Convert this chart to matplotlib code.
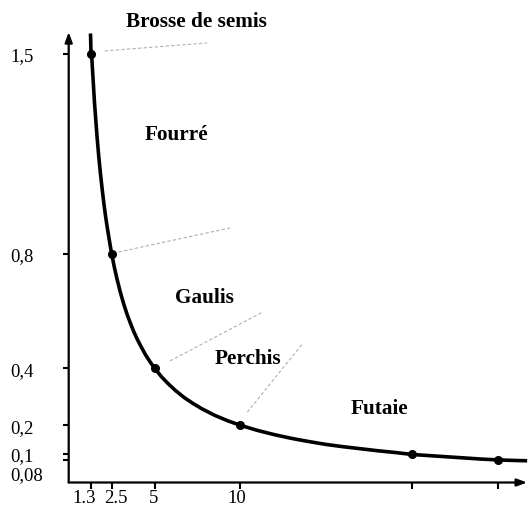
import matplotlib
matplotlib.use("Agg")
import matplotlib.pyplot as plt

# Stand stages: stem density against age (key points)
x_pts = [1.3, 2.5, 5, 10, 20, 25]
y_pts = [1.5, 0.8, 0.4, 0.2, 0.1, 0.08]

# Trace of the curve
curve_x = [1.27, 1.3, 1.35, 1.4, 1.45, 1.5, 1.575, 1.65, 1.75, 1.85, 1.95, 2.05, 2.15, 2.25,
           2.4, 2.5, 2.65, 2.8, 3.0, 3.2, 3.4, 3.6, 3.8, 4.0, 4.25, 4.5, 4.75, 5.0, 5.4, 5.8,
           6.25, 6.75, 7.25, 7.75, 8.5, 9.25, 10, 11, 12, 13, 14, 15, 16, 17, 18, 19, 20,
           21, 22, 23, 24, 25, 26, 26.7]
curve_y = [1.57, 1.5, 1.48, 1.43, 1.38, 1.33, 1.27, 1.21, 1.14, 1.08, 1.025, 0.975, 0.93, 0.89,
           0.835, 0.8, 0.755, 0.715, 0.667, 0.625, 0.588, 0.556, 0.526, 0.5, 0.471, 0.444,
           0.421, 0.4, 0.37, 0.345, 0.32, 0.296, 0.276, 0.258, 0.235, 0.216, 0.2, 0.182,
           0.167, 0.154, 0.143, 0.133, 0.125, 0.118, 0.111, 0.105, 0.098, 0.094, 0.09,
           0.086, 0.082, 0.079, 0.077, 0.076]

y_ticks = [1.5, 0.8, 0.4, 0.2, 0.1, 0.08]
y_labels = ["1,5", "0,8", "0,4", "0,2", "0,1", ""]
x_ticks = [1.3, 2.5, 5, 10, 20, 25]
x_labels = ["1.3", "2.5", "5", "10", "", ""]
x_label_shift = [-7, 4, -1, -4, 0, 0]  # px, keeps close labels apart

stages = ["Brosse de semis", "Fourré", "Gaulis", "Perchis", "Futaie"]
stage_xy = [(7.45, 1.615), (6.3, 1.22), (7.9, 0.65), (10.45, 0.435), (18.1, 0.26)]

# Boundaries between stages (faint dashed guides)
boundaries = [
    ((2.1, 1.509), (8.06, 1.537)),
    ((2.9, 0.806), (9.4, 0.89)),
    ((5.9, 0.425), (11.3, 0.596)),
    ((10.4, 0.246), (13.6, 0.484)),
]

plt.rcParams["font.family"] = ["Liberation Serif", "DejaVu Serif"]

W, H = 532, 506
fig = plt.figure(figsize=(W / 100, H / 100), dpi=100)
x0_px, y0_px = 68.7, 483.5
sx, sy = 17.17, 286.0
xmax, ymax = 27.0, 1.6
ax = fig.add_axes([x0_px / W, (H - y0_px) / H, xmax * sx / W, ymax * sy / H])
ax.set_xlim(0, xmax)
ax.set_ylim(0, ymax)
for s in ax.spines.values():
    s.set_visible(False)

# Axes drawn as arrows
arrow = dict(arrowstyle="-|>,head_length=0.6,head_width=0.22", lw=1.6, color="black",
             shrinkA=0, shrinkB=0)
ax.annotate("", xy=(0, 1.575), xytext=(0, 0), arrowprops=arrow, annotation_clip=False)
ax.annotate("", xy=(26.7, 0), xytext=(0, 0), arrowprops=arrow, annotation_clip=False)

px = 72 / 100  # points per pixel
fs = 13.5

# y axis: ticks outward, labels left-aligned in a column
ax.set_yticks(y_ticks, y_labels)
ax.tick_params(axis="y", direction="out", length=4.5, width=1.5, labelsize=fs,
               pad=(x0_px - 10.5) * px - 4.5)
for lbl in ax.get_yticklabels():
    lbl.set_horizontalalignment("left")
ax.annotate("0,08", xy=(0, 0.08), xytext=(-(x0_px - 10.5) * px, -14.5 * px),
            textcoords="offset points", ha="left", va="center", fontsize=fs,
            annotation_clip=False)

# x axis: tick marks, labels placed just under them
ax.set_xticks(x_ticks, [""] * len(x_ticks))
ax.tick_params(axis="x", direction="out", length=4, width=1.5)
for xv, lab, dx in zip(x_ticks, x_labels, x_label_shift):
    if lab:
        ax.annotate(lab, xy=(xv, 0), xytext=(dx * px, -19.5 * px), textcoords="offset points",
                    ha="center", va="baseline", fontsize=fs, annotation_clip=False)

for (xa, ya), (xb, yb) in boundaries:
    ax.plot([xa, xb], [ya, yb], ls=(0, (3, 2)), lw=0.8, color="#b0b0b0")

ax.plot(curve_x, curve_y, color="black", lw=2.6, solid_capstyle="butt", clip_on=False)
ax.plot(x_pts, y_pts, "o", color="black", ms=5.5, clip_on=False)

for name, (tx, ty) in zip(stages, stage_xy):
    ax.text(tx, ty, name, ha="center", va="center", fontsize=15.3, fontweight="bold")

fig.savefig("out.png", dpi=100)
